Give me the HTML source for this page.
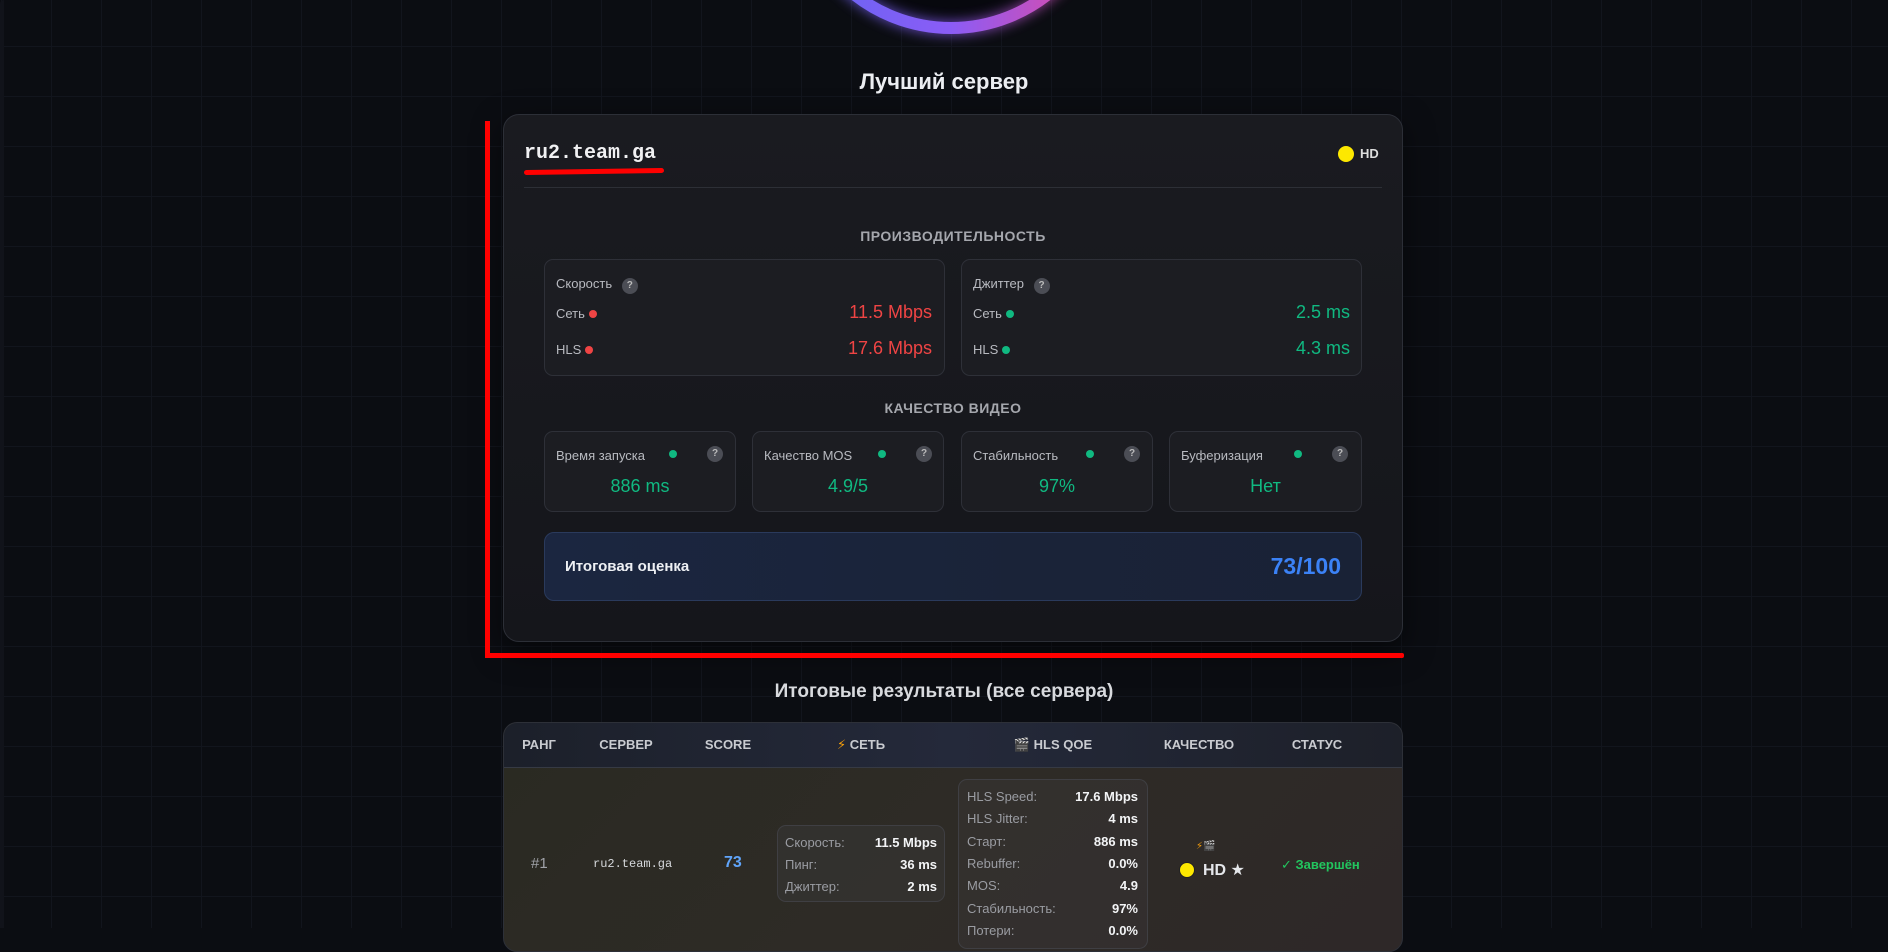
<!DOCTYPE html>
<html><head><meta charset="utf-8"><style>
*{margin:0;padding:0;box-sizing:border-box}
body{width:1888px;height:928px;overflow:hidden;background:#0b0d12;font-family:"Liberation Sans","DejaVu Sans",sans-serif;color:#e5e7eb;position:relative}
.grid{position:absolute;left:0;top:0;width:1888px;height:928px;background-image:linear-gradient(#12151d 1px,transparent 1px),linear-gradient(90deg,#12151d 1px,transparent 1px);background-size:50px 50px;background-position:1px -4px}
.a{position:absolute;white-space:nowrap}
.card{position:absolute;left:503px;top:114px;width:900px;height:528px;border:1px solid #2c2f37;border-radius:16px;background:linear-gradient(180deg,#1a1b20,#15161b);box-shadow:0 10px 30px rgba(0,0,0,.5)}
.box{position:absolute;border:1px solid #2e3038;border-radius:9px;background:#1c1d22}
.q{display:inline-block;width:16px;height:16px;border-radius:50%;background:#4b4d55;color:#bbb;font-size:10px;text-align:center;line-height:16px;font-weight:bold}
.dot{display:inline-block;width:8px;height:8px;border-radius:50%}
.lbl{font-size:13px;color:#b8bac0}
.g{color:#10b981}.r{color:#ef4444}
.sec{font-size:14px;color:#a5a7ad;letter-spacing:.5px;font-weight:bold;text-align:center;width:900px;left:503px}
.th{font-size:13px;font-weight:bold;color:#c9cbd0;transform:translateX(-50%)}
.rw{font-size:13px;font-weight:bold}
.rw .l{position:absolute;color:#9a9ca2;font-weight:normal}
.rw .v{position:absolute;color:#f3f4f6}
</style></head><body>
<div class="grid"></div>
<div class="a" style="left:0;top:0;width:4px;height:928px;background:#11131a;border-radius:6px 0 0 0"></div>
<svg class="a" style="left:0;top:0" width="1888" height="60">
<defs><linearGradient id="gr" x1="0" x2="1"><stop offset="0" stop-color="#6366f1"/><stop offset=".5" stop-color="#8b5cf6"/><stop offset="1" stop-color="#ec4899"/></linearGradient>
<filter id="bl"><feGaussianBlur stdDeviation="6"/></filter></defs>
<circle cx="951" cy="-128" r="150" fill="#07080e"/>
<circle cx="951" cy="-128" r="156" fill="none" stroke="url(#gr)" stroke-width="14" filter="url(#bl)" opacity=".7"/>
<circle cx="951" cy="-128" r="156" fill="none" stroke="url(#gr)" stroke-width="12"/>
</svg>
<div class="a" style="left:0;width:1888px;top:69px;text-align:center;font-size:22px;font-weight:bold;color:#eceef2">Лучший сервер</div>

<div class="card"></div>
<div class="a" style="left:524px;top:142px;font-family:'Liberation Mono',monospace;font-weight:bold;font-size:20px;color:#f1f1f3">ru2.team.ga</div>
<div class="a" style="left:524px;top:169px;width:140px;height:5px;background:#f00;border-radius:3px;transform:rotate(-0.8deg)"></div>
<div class="a" style="left:1338px;top:146px;width:16px;height:16px;border-radius:50%;background:#fde800"></div>
<div class="a" style="left:1360px;top:146px;font-size:13px;font-weight:bold;color:#ddd">HD</div>
<div class="a" style="left:524px;top:187px;width:858px;height:1px;background:#2d2f36"></div>

<div class="a sec" style="top:228px">ПРОИЗВОДИТЕЛЬНОСТЬ</div>
<div class="box" style="left:544px;top:259px;width:401px;height:117px"></div>
<div class="box" style="left:961px;top:259px;width:401px;height:117px"></div>
<div class="a lbl" style="left:556px;top:276px">Скорость <span class="q" style="margin-left:6px">?</span></div>
<div class="a lbl" style="left:556px;top:306px">Сеть <span class="dot" style="background:#ef4444"></span></div>
<div class="a lbl" style="left:556px;top:342px">HLS <span class="dot" style="background:#ef4444"></span></div>
<div class="a r" style="right:956px;top:302px;font-size:18px">11.5 Mbps</div>
<div class="a r" style="right:956px;top:338px;font-size:18px">17.6 Mbps</div>
<div class="a lbl" style="left:973px;top:276px">Джиттер <span class="q" style="margin-left:6px">?</span></div>
<div class="a lbl" style="left:973px;top:306px">Сеть <span class="dot" style="background:#10b981"></span></div>
<div class="a lbl" style="left:973px;top:342px">HLS <span class="dot" style="background:#10b981"></span></div>
<div class="a g" style="right:538px;top:302px;font-size:18px">2.5 ms</div>
<div class="a g" style="right:538px;top:338px;font-size:18px">4.3 ms</div>

<div class="a sec" style="top:400px">КАЧЕСТВО ВИДЕО</div>
<div class="box" style="left:544px;top:431px;width:192px;height:81px"></div>
<div class="box" style="left:752px;top:431px;width:192px;height:81px"></div>
<div class="box" style="left:961px;top:431px;width:192px;height:81px"></div>
<div class="box" style="left:1169px;top:431px;width:193px;height:81px"></div>
<div class="a lbl" style="left:556px;top:448px">Время запуска</div>
<div class="a lbl" style="left:764px;top:448px">Качество MOS</div>
<div class="a lbl" style="left:973px;top:448px">Стабильность</div>
<div class="a lbl" style="left:1181px;top:448px">Буферизация</div>
<span class="a dot" style="left:669px;top:450px;background:#10b981"></span>
<span class="a dot" style="left:878px;top:450px;background:#10b981"></span>
<span class="a dot" style="left:1086px;top:450px;background:#10b981"></span>
<span class="a dot" style="left:1294px;top:450px;background:#10b981"></span>
<span class="a q" style="left:707px;top:446px">?</span>
<span class="a q" style="left:916px;top:446px">?</span>
<span class="a q" style="left:1124px;top:446px">?</span>
<span class="a q" style="left:1332px;top:446px">?</span>
<div class="a g" style="left:544px;width:192px;text-align:center;top:476px;font-size:18px">886 ms</div>
<div class="a g" style="left:752px;width:192px;text-align:center;top:476px;font-size:18px">4.9/5</div>
<div class="a g" style="left:961px;width:192px;text-align:center;top:476px;font-size:18px">97%</div>
<div class="a g" style="left:1169px;width:193px;text-align:center;top:476px;font-size:18px">Нет</div>

<div class="a" style="left:544px;top:532px;width:818px;height:69px;border:1px solid #2a3a5c;border-radius:10px;background:linear-gradient(90deg,#1b2640,#1a2338 60%,#192236)"></div>
<div class="a" style="left:565px;top:558px;font-size:15px;font-weight:bold;color:#eef0f4">Итоговая оценка</div>
<div class="a" style="right:547px;top:553px;font-size:23px;font-weight:bold;color:#3b82f6">73/100</div>

<div class="a" style="left:485px;top:121px;width:5px;height:537px;background:#f00"></div>
<div class="a" style="left:485px;top:653px;width:919px;height:5px;background:#f00;border-radius:2px"></div>

<div class="a" style="left:0;width:1888px;top:681px;text-align:center;font-size:19px;font-weight:bold;color:#d8dade">Итоговые результаты (все сервера)</div>
<div class="a" style="left:503px;top:722px;width:900px;height:230px;border:1px solid #2d3038;border-radius:14px;overflow:hidden;background:linear-gradient(135deg,#2a2a22,#2e2b26 50%,#2e2828)">
<div style="height:45px;background:linear-gradient(90deg,#1c202a,#24293a 50%,#1d2029);border-bottom:1px solid #363a44"></div>
</div>
<div class="a th" style="left:539px;top:737px">РАНГ</div>
<div class="a th" style="left:626px;top:737px">СЕРВЕР</div>
<div class="a th" style="left:728px;top:737px">SCORE</div>
<div class="a th" style="left:861px;top:737px"><span style="color:#f59e0b">⚡</span> СЕТЬ</div>
<div class="a th" style="left:1053px;top:737px">🎬 HLS QOE</div>
<div class="a th" style="left:1199px;top:737px">КАЧЕСТВО</div>
<div class="a th" style="left:1317px;top:737px">СТАТУС</div>

<div class="a" style="left:531px;top:855px;font-size:15px;color:#a0a2a8">#1</div>
<div class="a" style="left:593px;top:857px;font-family:'Liberation Mono',monospace;font-size:12px;color:#d6d8dc">ru2.team.ga</div>
<div class="a" style="left:724px;top:854px;font-size:16px;font-weight:bold;color:#60a5fa">73</div>

<div class="box" style="left:777px;top:825px;width:168px;height:77px;background:rgba(60,60,62,.35);border-color:#3f3f43"></div>
<div class="a rw" style="left:0;top:0">
<span class="l" style="left:785px;top:835px">Скорость:</span><span class="v" style="right:-937px;top:835px">11.5 Mbps</span>
<span class="l" style="left:785px;top:857px">Пинг:</span><span class="v" style="right:-937px;top:857px">36 ms</span>
<span class="l" style="left:785px;top:879px">Джиттер:</span><span class="v" style="right:-937px;top:879px">2 ms</span>
</div>
<div class="box" style="left:958px;top:779px;width:190px;height:170px;background:rgba(60,58,60,.35);border-color:#3f3f43"></div>
<div class="a rw" style="left:0;top:0">
<span class="l" style="left:967px;top:789px">HLS Speed:</span><span class="v" style="right:-1138px;top:789px">17.6 Mbps</span>
<span class="l" style="left:967px;top:811px">HLS Jitter:</span><span class="v" style="right:-1138px;top:811px">4 ms</span>
<span class="l" style="left:967px;top:834px">Старт:</span><span class="v" style="right:-1138px;top:834px">886 ms</span>
<span class="l" style="left:967px;top:856px">Rebuffer:</span><span class="v" style="right:-1138px;top:856px">0.0%</span>
<span class="l" style="left:967px;top:878px">MOS:</span><span class="v" style="right:-1138px;top:878px">4.9</span>
<span class="l" style="left:967px;top:901px">Стабильность:</span><span class="v" style="right:-1138px;top:901px">97%</span>
<span class="l" style="left:967px;top:923px">Потери:</span><span class="v" style="right:-1138px;top:923px">0.0%</span>
</div>
<div class="a" style="left:1196px;top:841px;font-size:10px;color:#f59e0b">⚡🎬</div>
<div class="a" style="left:1179px;top:862px;width:16px;height:16px;border-radius:50%;background:#fde800;border:1px solid #222"></div>
<div class="a" style="left:1203px;top:860px;font-size:16px;font-weight:bold;color:#e5e7eb">HD ★</div>
<div class="a" style="left:1281px;top:857px;font-size:13px;font-weight:bold;color:#22c55e">✓ Завершён</div>
</body></html>
